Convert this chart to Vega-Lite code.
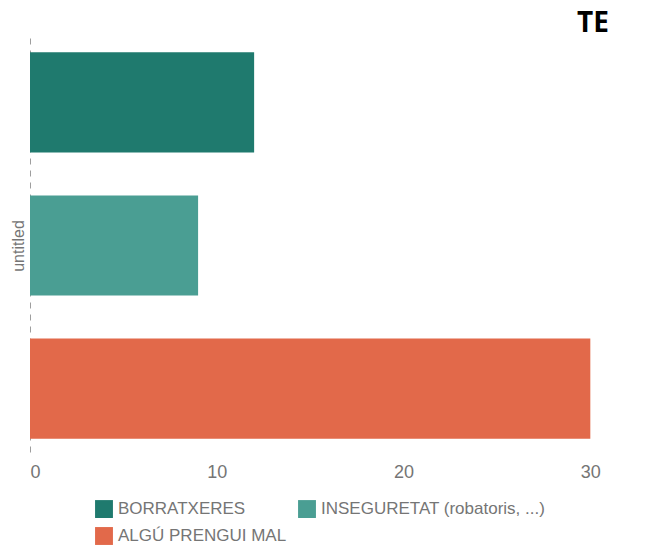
{
  "$schema": "https://vega.github.io/schema/vega-lite/v6.json",
  "width": 649,
  "height": 555,
  "autosize": {"type": "fit", "contains": "padding"},
  "padding": {"left": 10, "right": 40, "top": 10, "bottom": 10},
  "background": "white",
  "title": {"text": "TE", "anchor": "end", "font": "Open Sans", "fontSize": 28, "fontWeight": "bold", "color": "#000000", "offset": 0},
  "data": {
    "values": [
      {"category": "BORRATXERES", "value": 12},
      {"category": "INSEGURETAT (robatoris, ...)", "value": 9},
      {"category": "ALGÚ PRENGUI MAL", "value": 30}
    ]
  },
  "mark": {"type": "bar"},
  "encoding": {
    "y": {
      "field": "category",
      "type": "nominal",
      "sort": null,
      "scale": {"paddingInner": 0.3, "paddingOuter": 0.1},
      "axis": {
        "title": "untitled",
        "labels": false,
        "ticks": false,
        "domainDash": [6, 6],
        "domainColor": "#9e9e9e",
        "titleColor": "#757575",
        "titleFont": "Liberation Sans",
        "titleFontSize": 16,
        "titleFontWeight": "normal",
        "titlePadding": 4
      }
    },
    "x": {
      "field": "value",
      "type": "quantitative",
      "scale": {"domain": [0, 31]},
      "axis": {
        "title": null,
        "values": [0, 10, 20, 30],
        "domain": false,
        "ticks": false,
        "grid": false,
        "labelColor": "#757575",
        "labelFont": "Liberation Sans",
        "labelFontSize": 18,
        "labelPadding": 10
      }
    },
    "color": {
      "field": "category",
      "type": "nominal",
      "sort": null,
      "scale": {
        "domain": ["BORRATXERES", "INSEGURETAT (robatoris, ...)", "ALGÚ PRENGUI MAL"],
        "range": ["#1f7a6e", "#4a9e93", "#e2694a"]
      },
      "legend": {
        "title": null,
        "orient": "bottom",
        "direction": "horizontal",
        "columns": 2,
        "symbolType": "square",
        "symbolSize": 320,
        "symbolOpacity": 1,
        "labelColor": "#757575",
        "labelFont": "Liberation Sans",
        "labelFontSize": 17,
        "labelLimit": 400,
        "columnPadding": 10,
        "rowPadding": 8
      }
    }
  },
  "config": {"view": {"stroke": null}, "legend": {"layout": {"bottom": {"anchor": "middle"}}}}
}
